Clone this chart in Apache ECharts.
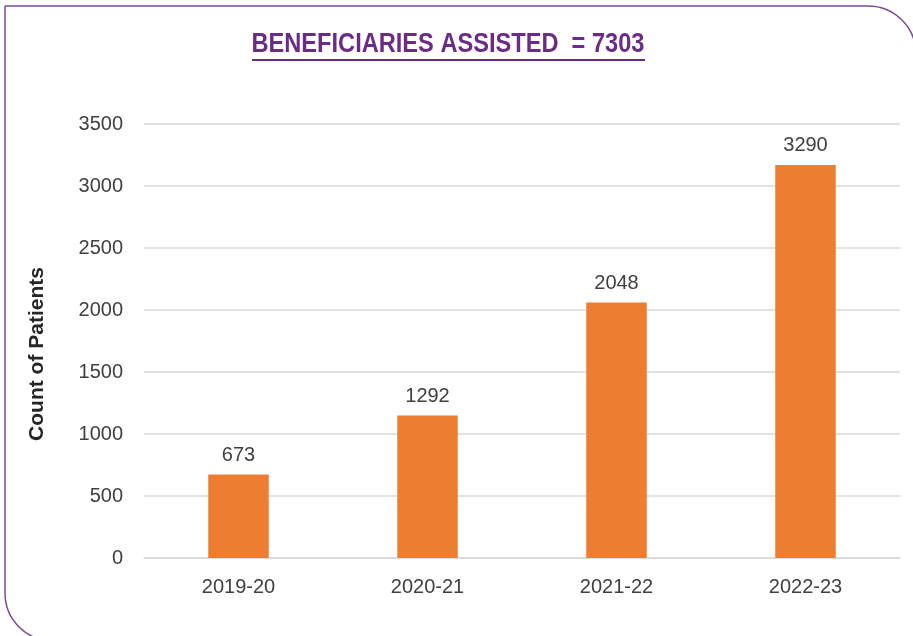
<!DOCTYPE html>
<html>
<head>
<meta charset="utf-8">
<script src="https://cdn.jsdelivr.net/npm/echarts@6/dist/echarts.min.js"></script>
<style>
  html, body { margin: 0; padding: 0; background: #fff; }
  #chart { width: 913px; height: 636px; }
</style>
</head>
<body>
<div id="chart"></div>
<script>
var categories = ['2019-20', '2020-21', '2021-22', '2022-23'];
// bar heights as drawn in the picture
var barValues = [673, 1150, 2060, 3170];
// numbers printed above the bars
var barLabels = ['673', '1292', '2048', '3290'];
var yTicks = [0, 3500, 500];
var titleText = 'BENEFICIARIES ASSISTED  = 7303';
var axisName = 'Count of Patients';

(function () {
  var purple = '#6B2C87';
  var ink = '#404040';
  var rule = '#d9d9d9';
  var orange = '#ED7D31';

  // condensed look for the title: squeeze a bold sans to the width it has in the picture
  var titleFont = 'bold 27px "Liberation Sans"';
  var ctx = document.createElement('canvas').getContext('2d');
  ctx.font = titleFont;
  var titleScale = 393 / ctx.measureText(titleText).width;

  var chart = echarts.init(document.getElementById('chart'), null, { renderer: 'canvas' });
  chart.setOption({
    animation: false,
    backgroundColor: '#fff',
    graphic: [
      {
        type: 'rect',
        shape: { x: 5, y: 6, width: 911, height: 635, r: [0, 48, 0, 48] },
        style: { fill: 'none', stroke: '#7B4A9B', lineWidth: 1.5 },
        silent: true
      },
      {
        type: 'text',
        x: 448,
        y: 45,
        scaleX: titleScale,
        style: {
          text: titleText,
          font: titleFont,
          fill: purple,
          align: 'center',
          verticalAlign: 'middle'
        },
        silent: true
      },
      {
        type: 'line',
        shape: { x1: 252, y1: 60, x2: 645, y2: 60 },
        style: { stroke: purple, lineWidth: 2 },
        silent: true
      }
    ],
    grid: { left: 144, right: 13, top: 124, bottom: 78, containLabel: false },
    xAxis: {
      type: 'category',
      data: categories,
      axisLine: { lineStyle: { color: rule, width: 1.5 } },
      axisTick: { show: false },
      axisLabel: { color: ink, fontFamily: 'Liberation Sans', fontSize: 20, margin: 19 }
    },
    yAxis: {
      type: 'value',
      min: yTicks[0],
      max: yTicks[1],
      interval: yTicks[2],
      name: axisName,
      nameLocation: 'middle',
      nameGap: 96,
      nameTextStyle: {
        color: '#262626',
        fontFamily: 'Liberation Sans',
        fontWeight: 'bold',
        fontSize: 21,
        padding: [0, 26, 0, 0]
      },
      axisLine: { show: false },
      axisTick: { show: false },
      axisLabel: {
        color: ink,
        fontFamily: 'Liberation Sans',
        fontSize: 20,
        margin: 21,
        formatter: function (v) { return String(v); }
      },
      splitLine: { lineStyle: { color: rule, width: 1.5 } }
    },
    series: [{
      type: 'bar',
      data: barValues,
      barWidth: '32%',
      itemStyle: { color: orange },
      label: {
        show: true,
        position: 'top',
        distance: 9,
        color: ink,
        fontFamily: 'Liberation Sans',
        fontSize: 20,
        formatter: function (p) { return barLabels[p.dataIndex]; }
      }
    }]
  });
})();
</script>
</body>
</html>
